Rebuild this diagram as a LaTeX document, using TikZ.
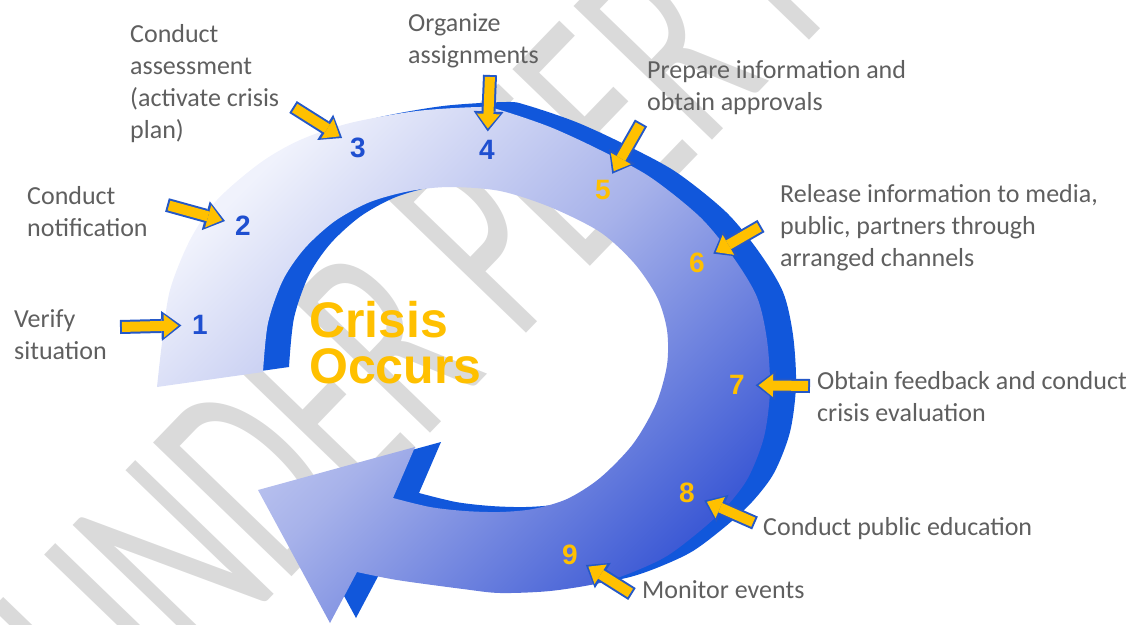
\documentclass[tikz,border=0pt]{standalone}
\usepackage{fontspec}
\setmainfont{Carlito}
\newfontfamily\numfont{Liberation Sans}
\newfontfamily\markfont[FakeStretch=0.6]{Carlito}
\usetikzlibrary{arrows.meta}

\definecolor{ringdark}{HTML}{1157DB}
\definecolor{facelight}{HTML}{F0F2FC}
\definecolor{facemid}{HTML}{A7B2EA}
\definecolor{facedeep}{HTML}{3D5AD5}
\definecolor{ptrblue}{HTML}{2458C8}
\definecolor{gold}{HTML}{FFC000}
\definecolor{numblue}{HTML}{1F4FD0}
\definecolor{lblgray}{HTML}{5F5F5F}
\definecolor{markgray}{HTML}{DADADA}

\newcommand{\ringoutline}{plot[smooth] coordinates {(157,387) (162,343) (170,290) (190,240) (217,200)
    (260,163) (300,140) (350,123) (417,111) (480,107) (500,110) (550,127) (600,150) (650,177)
    (700,217) (733,257) (757,297) (767,340) (770,390) (764,437) (748,478) (726,507) (700,531)
    (667,556) (633,572) (600,583) (550,591) (500,593) (463,589) (397,580) (357,572)}
  -- (330,623) -- (258,490) -- (415,447) -- (393,498)
  -- plot[smooth] coordinates {(393,498) (430,507) (465,511) (500,512) (533,509) (567,499)
    (600,478) (633,444) (656,404) (667,365) (667,330) (657,297) (634,263) (600,232) (550,207)
    (500,191) (450,187) (410,191) (370,202) (335,221) (305,248) (283,280) (268,323) (263,372)}
  -- cycle}

\begin{document}
\begin{tikzpicture}[x=1pt, y=-1pt,
  lbl/.style={font=\fontsize{26}{32}\selectfont, text=lblgray, align=left, anchor=base west, inner sep=0},
  num/.style={circle, inner sep=0, minimum size=24pt, font=\numfont\bfseries\fontsize{28}{28}\selectfont},
  ptrback/.style={draw=ptrblue, line width=14pt, -{Triangle[length=20pt,width=30pt,line width=0pt]}, shorten >=6pt},
  ptrfront/.style={draw=gold, line width=10pt, -{Triangle[length=14.5pt,width=23pt,line width=0pt]}, shorten >=9pt, shorten <=2pt}]

\useasboundingbox (0,0) rectangle (1137,624);
\clip (0,0) rectangle (1137,624);

\node[rotate=46, anchor=base west, inner sep=0, font=\markfont\fontsize{300}{300}\selectfont, text=markgray] (mark) at (122,752) {UNDER PEER REVIEW};

\fill[ringdark, shift={(26,-5)}] \ringoutline;
\shade[top color=facelight, bottom color=facedeep, middle color=facemid, shading angle=45] \ringoutline;

\node[anchor=base west, inner sep=0, align=left, font=\numfont\bfseries\fontsize{50}{46}\selectfont, text=gold] (crisis) at (309,383) {Crisis\\Occurs};

\foreach \i/\x/\y/\c in {1/200/325/numblue, 2/243/226/numblue, 3/358/148/numblue, 4/487/150/numblue,
    5/603/190/gold, 6/697/263/gold, 7/737/385/gold, 8/687/493/gold, 9/570/555/gold}
  \node[num, text=\c] (n\i) at (\x,\y) {\i};

\coordinate (t1) at (120,327);
\coordinate (t2) at (167,205);
\coordinate (t3) at (293,107);
\coordinate (t4) at (490,75);
\coordinate (t5) at (641,123);
\coordinate (t6) at (761,226);
\coordinate (t7) at (810,386);
\coordinate (t8) at (755,523);
\coordinate (t9) at (632,594);

\foreach \i in {1,...,9} {
  \draw[ptrback] (t\i) -- (n\i);
  \draw[ptrfront] (t\i) -- (n\i);
}

\node[lbl] (verify) at (14,359) {Verify\\situation};
\node[lbl] (notify) at (27,236) {Conduct\\notification};
\node[lbl] (assess) at (130,138) {Conduct\\assessment\\(activate crisis\\plan)};
\node[lbl] (organize) at (408,63) {Organize\\assignments};
\node[lbl] (prepare) at (647,110) {Prepare information and\\obtain approvals};
\node[lbl] (release) at (780,266) {Release information to media,\\public, partners through\\arranged channels};
\node[lbl] (feedback) at (817,421) {Obtain feedback and conduct\\crisis evaluation};
\node[lbl] (educate) at (763,535) {Conduct public education};
\node[lbl] (monitor) at (642,598) {Monitor events};

\end{tikzpicture}
\end{document}
